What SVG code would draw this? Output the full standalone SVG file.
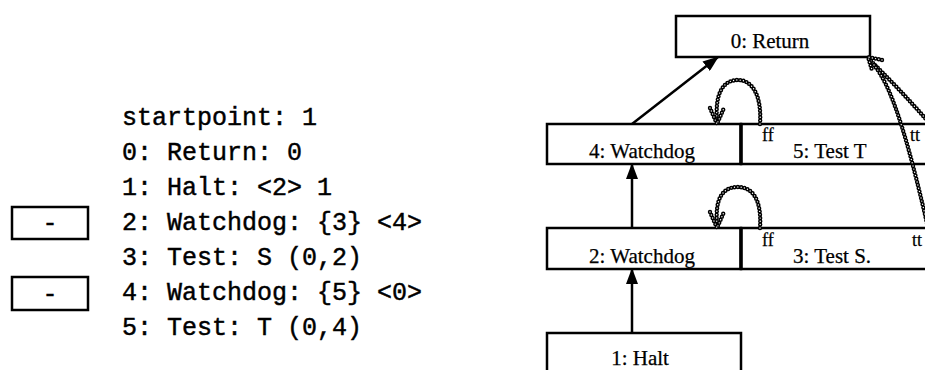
<svg xmlns="http://www.w3.org/2000/svg" xmlns:xlink="http://www.w3.org/1999/xlink" width="925" height="370" viewBox="0 0 925 370">
  <style>
    .lst { font-family: "Liberation Mono", "Courier New", monospace; font-size: 25px; fill: #000; stroke: #000; stroke-width: 0.45; }
    .box { fill: #fff; stroke: #000; stroke-width: 2.5; }
    .lbl { font-family: "Liberation Serif", "Times New Roman", serif; font-size: 21px; fill: #000; stroke: #000; stroke-width: 0.25; }
    .small { font-family: "Liberation Serif", "Times New Roman", serif; font-size: 18px; fill: #000; stroke: #000; stroke-width: 0.25; }
    .div { stroke: #000; stroke-width: 3.5; }
    .edge { fill: none; stroke: #000; stroke-width: 2.5; }
    .beadO { fill: none; stroke: #000; stroke-width: 4.4; stroke-dasharray: 0 3.3; stroke-linecap: round; }
    .beadI { fill: none; stroke: #fff; stroke-width: 1.4; stroke-dasharray: 0 3.3; stroke-linecap: round; }
  </style>
  <defs>
    <marker id="arr" markerUnits="userSpaceOnUse" markerWidth="16" markerHeight="12" refX="15" refY="6" orient="auto">
      <path d="M0,0 L16,6 L0,12 Z" fill="#000"/>
    </marker>
    <path id="loop45" d="M 760 124 C 762 95 752 80 738 80 C 722 80 715 95 717 120"/>
    <path id="head45" d="M 710 108 L 717 124 L 724 108"/>
    <path id="loop23" d="M 760 228 C 762 199 752 187 738 187 C 722 187 715 199 717 224"/>
    <path id="head23" d="M 710 212 L 717 228 L 724 212"/>
    <path id="ttA" d="M 871 61 C 886 76 906 96 932 126"/>
    <path id="ttB" d="M 874 65 C 891 86 906 131 929 232"/>
    <path id="headR" d="M 882 60 L 868 57 L 872 70"/>
  </defs>

  <rect width="925" height="370" fill="#fff"/>

  <!-- program listing -->
  <g id="listing">
    <text class="lst" x="122" y="125">startpoint: 1</text>
    <text class="lst" x="122" y="160">0: Return: 0</text>
    <text class="lst" x="122" y="195">1: Halt: &lt;2&gt; 1</text>
    <text class="lst" x="122" y="230">2: Watchdog: {3} &lt;4&gt;</text>
    <text class="lst" x="122" y="265">3: Test: S (0,2)</text>
    <text class="lst" x="122" y="300">4: Watchdog: {5} &lt;0&gt;</text>
    <text class="lst" x="122" y="335">5: Test: T (0,4)</text>
  </g>
  <g id="field2">
    <rect class="box" x="12" y="207" width="76" height="32"/>
    <text class="lst" x="50" y="231" text-anchor="middle">-</text>
  </g>
  <g id="field4">
    <rect class="box" x="12" y="277" width="76" height="33"/>
    <text class="lst" x="50" y="302" text-anchor="middle">-</text>
  </g>

  <!-- graph nodes -->
  <g id="node0">
    <rect class="box" x="676" y="16" width="194" height="41"/>
    <text class="lbl" x="770" y="48" text-anchor="middle">0: Return</text>
  </g>
  <g id="node4">
    <rect class="box" x="547" y="124" width="194" height="40"/>
    <text class="lbl" x="642" y="158" text-anchor="middle">4: Watchdog</text>
  </g>
  <g id="node5">
    <rect class="box" x="741" y="124" width="200" height="40"/>
    <text class="lbl" x="793" y="158">5: Test T</text>
    <text class="small" x="762" y="141">ff</text>
    <text class="small" x="910" y="141">tt</text>
  </g>
  <g id="node2">
    <rect class="box" x="547" y="228" width="194" height="41"/>
    <text class="lbl" x="642" y="263" text-anchor="middle">2: Watchdog</text>
  </g>
  <g id="node3">
    <rect class="box" x="741" y="228" width="200" height="41"/>
    <text class="lbl" x="793" y="263">3: Test S.</text>
    <text class="small" x="762" y="246">ff</text>
    <text class="small" x="912" y="246">tt</text>
  </g>
  <g id="node1">
    <rect class="box" x="547" y="333" width="194" height="50"/>
    <text class="lbl" x="640" y="365" text-anchor="middle">1: Halt</text>
  </g>
  <line class="div" x1="741" y1="123" x2="741" y2="165"/>
  <line class="div" x1="741" y1="227" x2="741" y2="270"/>

  <!-- connectors -->
  <g id="connectors">
    <line class="edge" x1="632" y1="124" x2="718" y2="57" marker-end="url(#arr)"/>
    <line class="edge" x1="632" y1="228" x2="632" y2="164" marker-end="url(#arr)"/>
    <line class="edge" x1="632" y1="333" x2="632" y2="269" marker-end="url(#arr)"/>

    <use xlink:href="#loop45" class="beadO"/><use xlink:href="#loop45" class="beadI"/>
    <use xlink:href="#head45" class="beadO"/><use xlink:href="#head45" class="beadI"/>
    <use xlink:href="#loop23" class="beadO"/><use xlink:href="#loop23" class="beadI"/>
    <use xlink:href="#head23" class="beadO"/><use xlink:href="#head23" class="beadI"/>
    <use xlink:href="#ttA" class="beadO"/><use xlink:href="#ttA" class="beadI"/>
    <use xlink:href="#ttB" class="beadO"/><use xlink:href="#ttB" class="beadI"/>
    <use xlink:href="#headR" class="beadO"/><use xlink:href="#headR" class="beadI"/>
  </g>
</svg>
